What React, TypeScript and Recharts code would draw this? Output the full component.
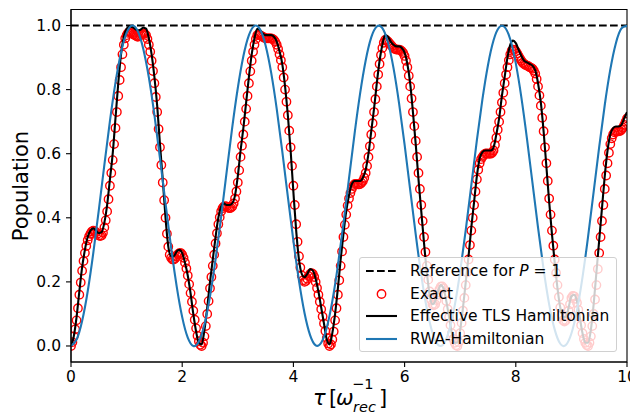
import React from 'react'
import { LineChart, Line, XAxis, YAxis, ReferenceLine, ReferenceArea } from 'recharts'

// exact solution, sampled every 0.025 in tau (0 .. 10)
const EXACT = [
  0, 0.012, 0.03, 0.052, 0.08, 0.118, 0.16, 0.198, 0.235, 0.265, 0.29, 0.312, 0.33, 0.342, 0.35, 0.357, 0.36, 0.358, 0.355, 0.35,
  0.345, 0.343, 0.345, 0.353, 0.37, 0.392, 0.42, 0.458, 0.5, 0.54, 0.58, 0.63, 0.68, 0.73, 0.78, 0.83, 0.87, 0.91, 0.94, 0.96,
  0.97, 0.977, 0.98, 0.978, 0.975, 0.972, 0.97, 0.967, 0.965, 0.967, 0.97, 0.973, 0.975, 0.974, 0.97, 0.958, 0.94, 0.918, 0.89, 0.858,
  0.82, 0.777, 0.73, 0.677, 0.62, 0.565, 0.51, 0.455, 0.4, 0.35, 0.31, 0.285, 0.275, 0.27, 0.27, 0.274, 0.28, 0.286, 0.29, 0.29,
  0.285, 0.275, 0.26, 0.242, 0.22, 0.193, 0.165, 0.138, 0.11, 0.082, 0.055, 0.032, 0.015, 0.004, 0, 0.01, 0.03, 0.062, 0.1, 0.14,
  0.18, 0.215, 0.25, 0.285, 0.32, 0.352, 0.38, 0.402, 0.42, 0.43, 0.435, 0.436, 0.435, 0.432, 0.43, 0.431, 0.435, 0.445, 0.46, 0.482,
  0.51, 0.548, 0.59, 0.625, 0.66, 0.7, 0.74, 0.78, 0.82, 0.857, 0.89, 0.918, 0.94, 0.958, 0.97, 0.972, 0.97, 0.967, 0.965, 0.962,
  0.96, 0.96, 0.96, 0.96, 0.96, 0.958, 0.955, 0.949, 0.94, 0.927, 0.91, 0.892, 0.87, 0.838, 0.8, 0.762, 0.72, 0.672, 0.62, 0.562,
  0.5, 0.44, 0.38, 0.325, 0.28, 0.245, 0.22, 0.205, 0.2, 0.203, 0.21, 0.218, 0.225, 0.227, 0.225, 0.215, 0.2, 0.181, 0.16, 0.138,
  0.115, 0.092, 0.07, 0.047, 0.025, 0.008, 0, 0.005, 0.02, 0.045, 0.08, 0.118, 0.16, 0.205, 0.25, 0.295, 0.34, 0.378, 0.41, 0.438,
  0.46, 0.477, 0.49, 0.499, 0.505, 0.506, 0.505, 0.504, 0.505, 0.509, 0.515, 0.525, 0.54, 0.562, 0.59, 0.623, 0.66, 0.695, 0.73, 0.77,
  0.81, 0.847, 0.88, 0.908, 0.93, 0.946, 0.955, 0.954, 0.95, 0.945, 0.94, 0.935, 0.93, 0.927, 0.925, 0.925, 0.925, 0.923, 0.92, 0.914,
  0.905, 0.89, 0.87, 0.843, 0.81, 0.772, 0.73, 0.686, 0.64, 0.59, 0.54, 0.49, 0.44, 0.39, 0.34, 0.293, 0.25, 0.207, 0.17, 0.145,
  0.13, 0.127, 0.13, 0.143, 0.16, 0.176, 0.185, 0.186, 0.18, 0.163, 0.14, 0.115, 0.09, 0.065, 0.04, 0.022, 0.01, 0.002, 0, 0.012,
  0.04, 0.072, 0.11, 0.15, 0.19, 0.23, 0.27, 0.315, 0.36, 0.4, 0.44, 0.482, 0.52, 0.55, 0.57, 0.583, 0.59, 0.596, 0.6, 0.601,
  0.6, 0.6, 0.6, 0.603, 0.61, 0.627, 0.65, 0.675, 0.7, 0.73, 0.76, 0.79, 0.82, 0.847, 0.87, 0.892, 0.91, 0.921, 0.925, 0.924,
  0.92, 0.913, 0.905, 0.897, 0.89, 0.884, 0.88, 0.877, 0.875, 0.873, 0.87, 0.868, 0.865, 0.859, 0.85, 0.833, 0.81, 0.782, 0.75, 0.712,
  0.67, 0.62, 0.57, 0.515, 0.46, 0.41, 0.36, 0.313, 0.27, 0.228, 0.19, 0.153, 0.12, 0.097, 0.08, 0.076, 0.08, 0.093, 0.11, 0.13,
  0.15, 0.156, 0.155, 0.147, 0.135, 0.113, 0.09, 0.065, 0.04, 0.022, 0.01, 0.003, 0, 0.01, 0.03, 0.062, 0.1, 0.145, 0.19, 0.24,
  0.29, 0.34, 0.39, 0.44, 0.49, 0.532, 0.57, 0.603, 0.63, 0.648, 0.66, 0.667, 0.67, 0.67, 0.67, 0.671, 0.675, 0.681, 0.69, 0.7,
  0.71,
]

// effective two-level model, sampled every 0.05 in tau
const TLS = [
  0, 0.03, 0.09, 0.17, 0.245, 0.3, 0.34, 0.36, 0.367, 0.36,
  0.352, 0.355, 0.385, 0.44, 0.52, 0.6, 0.71, 0.82, 0.91, 0.965,
  0.99, 0.997, 0.995, 0.99, 0.985, 0.987, 0.993, 0.99, 0.96, 0.91,
  0.84, 0.75, 0.63, 0.52, 0.4, 0.31, 0.28, 0.28, 0.295, 0.3,
  0.29, 0.26, 0.22, 0.165, 0.1, 0.045, 0.01, 0.005, 0.05, 0.12,
  0.2, 0.27, 0.34, 0.4, 0.435, 0.445, 0.44, 0.44, 0.445, 0.47,
  0.53, 0.61, 0.68, 0.76, 0.84, 0.91, 0.96, 0.99, 0.985, 0.975,
  0.97, 0.97, 0.97, 0.965, 0.95, 0.92, 0.88, 0.81, 0.72, 0.61,
  0.48, 0.36, 0.27, 0.225, 0.215, 0.225, 0.24, 0.235, 0.21, 0.17,
  0.12, 0.07, 0.02, 0.005, 0.04, 0.1, 0.18, 0.27, 0.35, 0.42,
  0.47, 0.505, 0.515, 0.515, 0.515, 0.525, 0.55, 0.6, 0.67, 0.74,
  0.82, 0.89, 0.94, 0.97, 0.965, 0.95, 0.94, 0.935, 0.935, 0.93,
  0.915, 0.88, 0.82, 0.73, 0.63, 0.52, 0.42, 0.32, 0.23, 0.16,
  0.13, 0.14, 0.17, 0.19, 0.18, 0.14, 0.09, 0.04, 0.01, 0.01,
  0.05, 0.12, 0.2, 0.28, 0.37, 0.45, 0.53, 0.585, 0.605, 0.61,
  0.61, 0.61, 0.62, 0.66, 0.71, 0.78, 0.84, 0.9, 0.94, 0.953,
  0.945, 0.925, 0.905, 0.89, 0.885, 0.88, 0.875, 0.86, 0.82, 0.76,
  0.67, 0.56, 0.45, 0.35, 0.26, 0.18, 0.12, 0.09, 0.09, 0.12,
  0.155, 0.16, 0.14, 0.09, 0.04, 0.01, 0.01, 0.05, 0.13, 0.23,
  0.33, 0.43, 0.53, 0.61, 0.66, 0.68, 0.685, 0.685, 0.69, 0.71,
  0.73,
]

// RWA, sampled every 0.1 in tau
const RWA = [
  0, 0.02, 0.078, 0.17, 0.289, 0.424, 0.565, 0.702, 0.822, 0.916,
  0.977, 1.0, 0.983, 0.927, 0.838, 0.721, 0.586, 0.445, 0.308, 0.187,
  0.09, 0.026, 0.0, 0.014, 0.067, 0.155, 0.27, 0.403, 0.544, 0.682,
  0.805, 0.904, 0.97, 0.999, 0.988, 0.938, 0.853, 0.74, 0.607, 0.466,
  0.328, 0.204, 0.103, 0.034, 0.002, 0.01, 0.057, 0.14, 0.251, 0.382,
  0.523, 0.662, 0.788, 0.891, 0.963, 0.997, 0.992, 0.948, 0.868, 0.758,
  0.628, 0.488, 0.348, 0.221, 0.116, 0.042, 0.004, 0.006, 0.048, 0.125,
  0.233, 0.362, 0.502, 0.642, 0.77, 0.877, 0.954, 0.994, 0.995, 0.957,
  0.882, 0.776, 0.648, 0.509, 0.369, 0.239, 0.13, 0.051, 0.007, 0.003,
  0.039, 0.111, 0.215, 0.341, 0.481, 0.621, 0.752, 0.863, 0.945, 0.991,
  0.998,
]

const X_TICKS = [0, 2, 4, 6, 8, 10]
const Y_TICKS = [0, 0.2, 0.4, 0.6, 0.8, 1.0]
const X_DOMAIN = [0, 10]
const Y_DOMAIN = [-0.05, 1.05]

const toPoints = (vals: number[], step: number) =>
  vals.map((p, i) => ({ t: Math.round(i * step * 1000) / 1000, p }))

const exactData = toPoints(EXACT, 0.025)
const tlsData = toPoints(TLS, 0.05)
const rwaData = toPoints(RWA, 0.1)

const FONT = 'DejaVu Sans'
const BLUE = '#1f77b4'
const W = 630
const H = 412

const tickStyle = { fontSize: 15.5, fill: '#000', fontFamily: FONT }

const XLabel = () => (
  <text y={397} fontFamily={FONT} fontSize={21} fill="#000">
    <tspan x={305} fontStyle="italic">τ</tspan>
    <tspan x={321}>[</tspan>
    <tspan x={328} fontStyle="italic">ω</tspan>
    <tspan x={344} y={381} fontSize={14.5}>−1</tspan>
    <tspan x={345} y={404} fontSize={14.5} fontStyle="italic">rec</tspan>
    <tspan x={371} y={397}>]</tspan>
  </text>
)

const YLabel = () => (
  <text
    x={19.5}
    y={178}
    transform="rotate(-90 19.5 178)"
    textAnchor="middle"
    fontFamily={FONT}
    fontSize={21}
    fill="#000"
  >
    Population
  </text>
)

const handle = (kind: string) => {
  if (kind === 'dash')
    return <line x1={0} y1={5} x2={31} y2={5} stroke="#000" strokeWidth={2.1} strokeDasharray="7.7 3.3" />
  if (kind === 'circle')
    return <circle cx={15.5} cy={5} r={4.2} fill="none" stroke="#ff0000" strokeWidth={1.4} />
  return <line x1={0} y1={5} x2={31} y2={5} stroke={kind} strokeWidth={2.1} />
}

const legendRows = [
  { kind: 'dash', label: <>Reference for <i>P</i> = 1</> },
  { kind: 'circle', label: 'Exact' },
  { kind: '#000', label: 'Effective TLS Hamiltonian' },
  { kind: BLUE, label: 'RWA-Hamiltonian' },
]

const LegendBox = () => (
  <div
    style={{
      position: 'absolute',
      left: 351,
      top: 248.5,
      width: 258,
      height: 95,
      boxSizing: 'border-box',
      border: '1px solid #d0d0d0',
      borderRadius: 3,
      background: 'rgba(255,255,255,0.8)',
      paddingTop: 2,
      fontFamily: FONT,
      fontSize: 15.5,
      color: '#000',
    }}
  >
    {legendRows.map((r, i) => (
      <div key={i} style={{ height: 22.8, display: 'flex', alignItems: 'center', paddingLeft: 6 }}>
        <svg width={31} height={10} style={{ marginRight: 13, overflow: 'visible' }}>
          {handle(r.kind)}
        </svg>
        <span style={{ whiteSpace: 'nowrap' }}>{r.label}</span>
      </div>
    ))}
  </div>
)

export default function App() {
  return (
    <div style={{ position: 'relative', width: W, height: H, fontFamily: FONT }}>
      {/* bottom layer: reference line and exact markers, so the lines sit on top of them */}
      <div style={{ position: 'absolute', left: 0, top: 0 }}>
        <LineChart width={W} height={H} margin={{ top: 1.5, right: 11, bottom: 58, left: 63 }}>
          <XAxis dataKey="t" type="number" domain={X_DOMAIN} hide allowDataOverflow />
          <YAxis type="number" domain={Y_DOMAIN} hide allowDataOverflow />
          <ReferenceLine y={1} stroke="#000" strokeWidth={2.1} strokeDasharray="7.7 3.3" />
          <Line
            data={exactData}
            dataKey="p"
            stroke="none"
            dot={{ r: 4.2, stroke: '#ff0000', strokeWidth: 1.4, fill: 'none' }}
            activeDot={false}
            isAnimationActive={false}
          />
        </LineChart>
      </div>
      <div style={{ position: 'absolute', left: 0, top: 0 }}>
        <LineChart width={W} height={H} margin={{ top: 1.5, right: 11, bottom: 0, left: 0 }}>
          <XAxis
            dataKey="t"
            type="number"
            domain={X_DOMAIN}
            ticks={X_TICKS}
            height={58}
            tick={tickStyle}
            tickSize={5}
            tickMargin={4}
            axisLine={{ stroke: '#000', strokeWidth: 1.1 }}
            tickLine={{ stroke: '#000', strokeWidth: 1.1 }}
            allowDataOverflow
            label={{ content: () => <XLabel /> }}
          />
          <YAxis
            type="number"
            domain={Y_DOMAIN}
            ticks={Y_TICKS}
            width={63}
            tick={tickStyle}
            tickSize={5}
            tickMargin={5}
            tickFormatter={(v: number) => v.toFixed(1)}
            axisLine={{ stroke: '#000', strokeWidth: 1.1 }}
            tickLine={{ stroke: '#000', strokeWidth: 1.1 }}
            allowDataOverflow
            label={{ content: () => <YLabel /> }}
          />
          <Line
            data={tlsData}
            dataKey="p"
            type="monotone"
            stroke="#000"
            strokeWidth={2.1}
            dot={false}
            activeDot={false}
            isAnimationActive={false}
          />
          <Line
            data={rwaData}
            dataKey="p"
            type="natural"
            stroke={BLUE}
            strokeWidth={2.1}
            dot={false}
            activeDot={false}
            isAnimationActive={false}
          />
          <ReferenceArea x1={0} x2={10} y1={-0.05} y2={1.05} fill="none" stroke="#000" strokeWidth={1.1} />
        </LineChart>
      </div>
      <LegendBox />
    </div>
  )
}
